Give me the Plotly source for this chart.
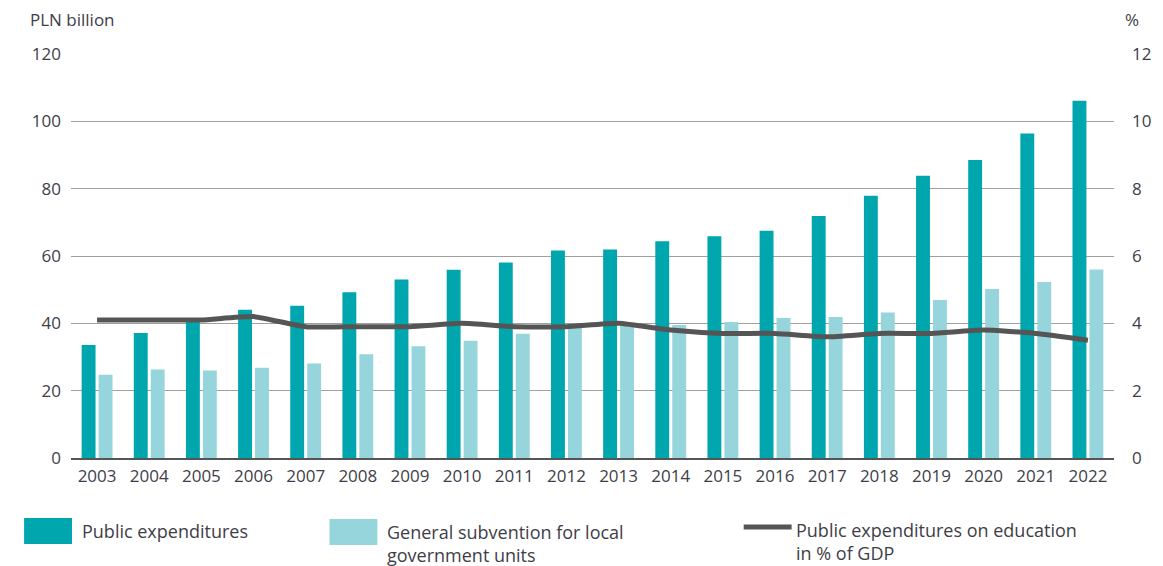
import plotly.graph_objects as go

years = [str(y) for y in range(2003, 2023)]
public_exp = [33.6, 37.1, 40.5, 44.0, 45.2, 49.2, 53.0, 55.9, 58.1, 61.6,
              61.9, 64.4, 65.9, 67.5, 71.9, 77.9, 83.8, 88.5, 96.4, 106.1]
subvention = [24.7, 26.3, 26.0, 26.8, 28.1, 30.8, 33.2, 34.8, 36.9, 38.7,
              39.5, 39.5, 40.4, 41.6, 41.9, 43.2, 46.9, 50.2, 52.3, 56.0]
gdp_share = [4.1, 4.1, 4.1, 4.2, 3.9, 3.9, 3.9, 4.0, 3.9, 3.9,
             4.0, 3.8, 3.7, 3.7, 3.6, 3.7, 3.7, 3.8, 3.7, 3.5]

left_ticks = [0, 20, 40, 60, 80, 100, 120]
right_ticks = [0, 2, 4, 6, 8, 10, 12]

DARK = "rgb(0,166,173)"
LIGHT = "rgb(150,213,219)"
LINE = "rgb(85,85,85)"
TXT = "rgb(62,62,72)"
FONT = "Open Sans, Noto Sans, sans-serif"

fig = go.Figure()
fig.add_trace(go.Bar(x=years, y=public_exp, name="Public expenditures",
                     marker=dict(color=DARK, line=dict(width=0))))
fig.add_trace(go.Bar(x=years, y=subvention, name="General subvention for local government units",
                     marker=dict(color=LIGHT, line=dict(width=0))))
fig.add_trace(go.Scatter(x=years, y=gdp_share, yaxis="y2", mode="lines",
                         name="Public expenditures on education in % of GDP",
                         line=dict(color=LINE, width=5, shape="spline", smoothing=0.5)))

# page body has an 8px margin; figure sized so that it fills the 1163x566 window
OFF = 8
W, H = 1163 - OFF, 566 - OFF
L, R, T, B = 71 - OFF, 47, 54 - OFF, 108
pw, ph = W - L - R, H - T - B


def px(x):
    return (x - OFF - L) / pw


def py(y):
    return (H - B - (y - OFF)) / ph


shapes = [
    dict(type="rect", xref="paper", yref="paper", x0=px(24), x1=px(72), y0=py(518), y1=py(544),
         fillcolor=DARK, line=dict(width=0)),
    dict(type="rect", xref="paper", yref="paper", x0=px(330), x1=px(378), y0=py(519), y1=py(545),
         fillcolor=LIGHT, line=dict(width=0)),
    dict(type="line", xref="paper", yref="paper", x0=px(745), x1=px(793), y0=py(527), y1=py(527),
         line=dict(color=LINE, width=5)),
]

annotations = [
    dict(text="PLN billion", xref="paper", yref="paper", x=px(28), y=py(20),
         xanchor="left", yanchor="middle", showarrow=False, font=dict(size=17, color=TXT, family=FONT)),
    dict(text="%", xref="paper", yref="paper", x=px(1134), y=py(20),
         xanchor="center", yanchor="middle", showarrow=False, font=dict(size=17, color=TXT, family=FONT)),
    dict(text="Public expenditures", xref="paper", yref="paper", x=px(80), y=py(531),
         xanchor="left", yanchor="middle", showarrow=False, font=dict(size=18, color=TXT, family=FONT)),
    dict(text="General subvention for local<br>government units", xref="paper", yref="paper",
         x=px(386), y=py(518), xanchor="left", yanchor="top", align="left", showarrow=False,
         font=dict(size=18, color=TXT, family=FONT)),
    dict(text="Public expenditures on education<br>in % of GDP", xref="paper", yref="paper",
         x=px(795), y=py(516), xanchor="left", yanchor="top", align="left", showarrow=False,
         font=dict(size=18, color=TXT, family=FONT)),
]

fig.update_layout(
    width=W, height=H,
    margin=dict(l=L, r=R, t=T, b=B, pad=0),
    paper_bgcolor="white", plot_bgcolor="white",
    barmode="group", bargap=0.35, bargroupgap=0.18,
    showlegend=False,
    font=dict(family=FONT, size=17, color=TXT),
    xaxis=dict(type="category", showgrid=False, showline=True, linecolor=LINE, linewidth=2,
               ticks="", tickfont=dict(size=17, color=TXT), ticklabelstandoff=2),
    yaxis=dict(range=[0, 120], tickvals=left_ticks, showgrid=True, gridcolor="rgb(160,160,160)",
               gridwidth=1, zeroline=False, showline=False, ticks="",
               tickfont=dict(size=17, color=TXT), ticklabelstandoff=9),
    yaxis2=dict(range=[0, 12], tickvals=right_ticks, overlaying="y", side="right", showgrid=False,
                zeroline=False, showline=False, ticks="", tickfont=dict(size=17, color=TXT),
                ticklabelstandoff=17),
    shapes=shapes,
    annotations=annotations,
)

fig.write_html("out.html")
